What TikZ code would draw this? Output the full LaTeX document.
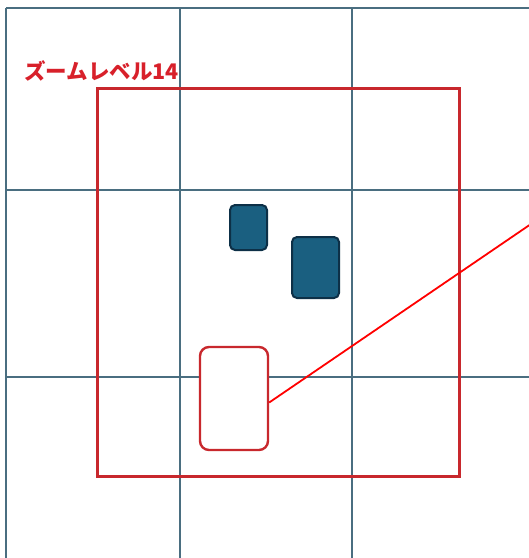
\documentclass[tikz,border=0pt]{standalone}
\usepackage{fontspec}
\newfontfamily\cjk{Noto Sans CJK JP}
\definecolor{gridc}{HTML}{4A6E80}
\definecolor{boxred}{HTML}{C8282D}
\definecolor{txtred}{HTML}{D8202A}
\definecolor{fillblue}{HTML}{1A5F80}
\definecolor{edgeblue}{HTML}{0D3047}
\tikzset{
  gridline/.style={draw=gridc, line width=1.4pt},
  tile/.style={draw=edgeblue, fill=fillblue, line width=2pt, rounded corners=5pt, inner sep=0pt},
  redtile/.style={draw=boxred, line width=2.4pt, rounded corners=9pt, inner sep=0pt},
  zoombox/.style={draw=boxred, line width=3pt},
  link/.style={draw=red, line width=1.8pt},
  lbl/.style={text=txtred, font=\cjk\bfseries\fontsize{21.5}{25}\selectfont, inner sep=0pt}
}
\begin{document}
\begin{tikzpicture}[x=1pt,y=-1pt]
\useasboundingbox (0,0) rectangle (529,558);
\fill[white] (0,0) rectangle (529,558);
% grid
\draw[gridline] (6,8) -- (529,8);
\draw[gridline] (6,190) -- (529,190);
\draw[gridline] (6,377) -- (529,377);
\draw[gridline] (6,8) -- (6,558);
\draw[gridline] (180,8) -- (180,558);
\draw[gridline] (352,8) -- (352,558);
% zoom box
\draw[zoombox] (97,88) rectangle (459,476);
\node[lbl, anchor=west] (label) at (24,71) {ズームレベル14};
% tiles
\node[tile, minimum width=37pt, minimum height=45pt] (t1) at (248.5,227.5) {};
\node[tile, minimum width=47pt, minimum height=61pt] (t2) at (315.5,267.5) {};
\node[redtile, fill=white, minimum width=68pt, minimum height=103pt] (sel) at (234,398.5) {};
\coordinate (far) at (531,224);
\draw[link] ([yshift=-4pt]sel.east) -- (far);
\end{tikzpicture}
\end{document}
